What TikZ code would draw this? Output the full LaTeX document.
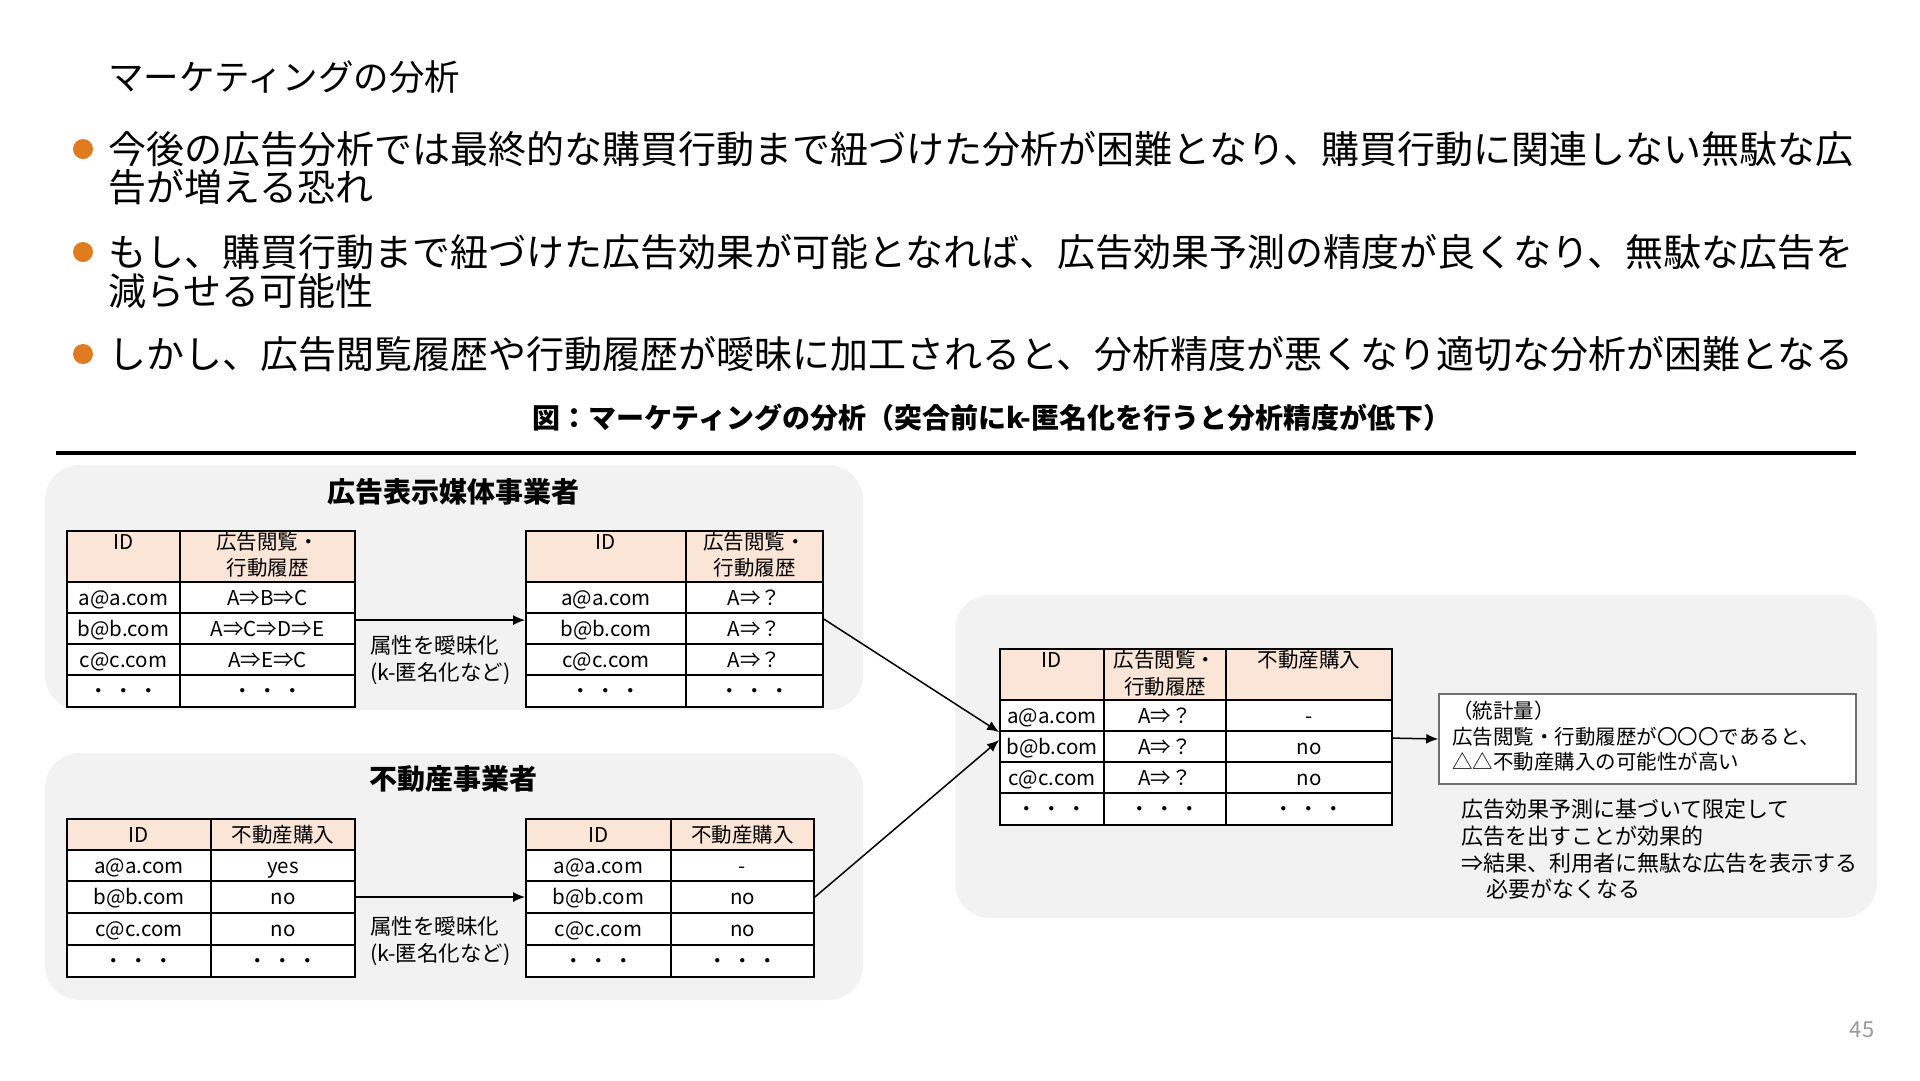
\documentclass[tikz,border=0pt]{standalone}
\usepackage{fontspec}
\setmainfont{Noto Sans CJK JP}
\usetikzlibrary{arrows.meta,calc}
\definecolor{panel}{HTML}{F2F2F2}
\definecolor{peach}{HTML}{FBE5D6}
\definecolor{bul}{HTML}{E07B1F}
\definecolor{boxgray}{HTML}{6F6F6F}
\newcommand{\fsz}[1]{\fontsize{#1pt}{#1pt}\selectfont}
\tikzset{
  ttl/.style={inner sep=0pt, anchor=west, font=\fsz{35.5}, text height=31.2pt, text depth=4.3pt},
  bl/.style={inner sep=0pt, anchor=west, font=\fsz{38}, text height=33.4pt, text depth=4.6pt},
  capt/.style={inner sep=0pt, font=\bfseries\fsz{28}, text height=24.6pt, text depth=3.4pt},
  cl/.style={inner sep=0pt, font=\fsz{20.5}, text height=18pt, text depth=2.5pt},
  lb/.style={inner sep=0pt, anchor=west, font=\fsz{21.5}, text height=18.9pt, text depth=2.6pt},
  rt/.style={inner sep=0pt, anchor=west, font=\fsz{22}, text height=19.4pt, text depth=2.6pt},
  bt/.style={inner sep=0pt, anchor=west, font=\fsz{20.5}, text height=18pt, text depth=2.5pt},
  cellb/.style={cl, draw=black, line width=1.8pt},
  hdr/.style={fill=peach},
  row/.style={fill=white},
  panelbg/.style={fill=panel, rounded corners=35pt},
  arr/.style={line width=1.5pt, -{Latex[length=12pt,width=10pt]}},
  dot/.style={circle, fill=bul, minimum size=20pt, inner sep=0pt},
}
\newcommand{\cell}[7]{\node[cellb,#6,minimum width={(#4-#2)*1pt},minimum height={(#5-#3)*1pt}] (#1) at ({(#2+#4)/2},{(#3+#5)/2}) {#7};}
\begin{document}
\begin{tikzpicture}[x=1pt,y=-1pt]
\useasboundingbox (0,0) rectangle (1920,1080);
\fill[white] (0,0) rectangle (1920,1080);

% title and bullets
\node[ttl] (title) at (108,77) {マーケティングの分析};
\node[dot] (d1) at (83,149) {};
\node[bl] (l1a) at (108,149) {今後の広告分析では最終的な購買行動まで紐づけた分析が困難となり、購買行動に関連しない無駄な広};
\node[bl] (l1b) at (108,187) {告が増える恐れ};
\node[dot] (d2) at (83,252) {};
\node[bl] (l2a) at (108,252) {もし、購買行動まで紐づけた広告効果が可能となれば、広告効果予測の精度が良くなり、無駄な広告を};
\node[bl] (l2b) at (108,291) {減らせる可能性};
\node[dot] (d3) at (83,354) {};
\node[bl] (l3a) at (108,354) {しかし、広告閲覧履歴や行動履歴が曖昧に加工されると、分析精度が悪くなり適切な分析が困難となる};

\node[capt] (cap) at (992,418) {図：マーケティングの分析（突合前にk-匿名化を行うと分析精度が低下）};
\coordinate (rl) at (56,453);
\coordinate (rr) at (1856,453);
\draw[line width=3.5pt] (rl) -- (rr);

% panels
\path[panelbg] (45,465) rectangle (863,710);
\path[panelbg] (45,753) rectangle (863,1000);
\path[panelbg] (955,595) rectangle (1877,918);

\node[capt] (pta) at (453,492) {広告表示媒体事業者};
\node[capt] (ptb) at (453,779) {不動産事業者};

% table A1
\cell{aoh1}{67}{531}{180}{582}{hdr}{}
\cell{aoh2}{180}{531}{355}{582}{hdr}{}
\cell{aor1a}{67}{582}{180}{613}{row}{a@a.com}
\cell{aor1b}{180}{582}{355}{613}{row}{A⇒B⇒C}
\cell{aor2a}{67}{613}{180}{644}{row}{b@b.com}
\cell{aor2b}{180}{613}{355}{644}{row}{A⇒C⇒D⇒E}
\cell{aor3a}{67}{644}{180}{675}{row}{c@c.com}
\cell{aor3b}{180}{644}{355}{675}{row}{A⇒E⇒C}
\cell{aor4a}{67}{675}{180}{707}{row}{・ ・ ・}
\cell{aor4b}{180}{675}{355}{707}{row}{・ ・ ・}
\node[cl] (aoh1t) at ($(aoh1.north)+(0,12)$) {ID};
\node[cl] (aoh2t) at ($(aoh2.north)+(0,12)$) {広告閲覧・};
\node[cl] (aoh2u) at ($(aoh2.north)+(0,38)$) {行動履歴};

% table A2
\cell{ath1}{526}{531}{686}{582}{hdr}{}
\cell{ath2}{686}{531}{823}{582}{hdr}{}
\cell{atr1a}{526}{582}{686}{613}{row}{a@a.com}
\cell{atr1b}{686}{582}{823}{613}{row}{A⇒？}
\cell{atr2a}{526}{613}{686}{644}{row}{b@b.com}
\cell{atr2b}{686}{613}{823}{644}{row}{A⇒？}
\cell{atr3a}{526}{644}{686}{675}{row}{c@c.com}
\cell{atr3b}{686}{644}{823}{675}{row}{A⇒？}
\cell{atr4a}{526}{675}{686}{707}{row}{・ ・ ・}
\cell{atr4b}{686}{675}{823}{707}{row}{・ ・ ・}
\node[cl] (ath1t) at ($(ath1.north)+(0,12)$) {ID};
\node[cl] (ath2t) at ($(ath2.north)+(0,12)$) {広告閲覧・};
\node[cl] (ath2u) at ($(ath2.north)+(0,38)$) {行動履歴};

\draw[arr] ($(aor2b.north east)+(0,8)$) -- ($(atr2a.north west)+(0,8)$);
\node[lb] (lba1) at (370,645) {属性を曖昧化};
\node[lb] (lba2) at (370,672) {(k-匿名化など)};

% table B1
\cell{boh1}{67}{819}{211}{850}{hdr}{ID}
\cell{boh2}{211}{819}{355}{850}{hdr}{不動産購入}
\cell{bor1a}{67}{850}{211}{881}{row}{a@a.com}
\cell{bor1b}{211}{850}{355}{881}{row}{yes}
\cell{bor2a}{67}{881}{211}{913}{row}{b@b.com}
\cell{bor2b}{211}{881}{355}{913}{row}{no}
\cell{bor3a}{67}{913}{211}{945}{row}{c@c.com}
\cell{bor3b}{211}{913}{355}{945}{row}{no}
\cell{bor4a}{67}{945}{211}{977}{row}{・ ・ ・}
\cell{bor4b}{211}{945}{355}{977}{row}{・ ・ ・}

% table B2
\cell{bth1}{526}{819}{671}{850}{hdr}{ID}
\cell{bth2}{671}{819}{814}{850}{hdr}{不動産購入}
\cell{btr1a}{526}{850}{671}{881}{row}{a@a.com}
\cell{btr1b}{671}{850}{814}{881}{row}{-}
\cell{btr2a}{526}{881}{671}{913}{row}{b@b.com}
\cell{btr2b}{671}{881}{814}{913}{row}{no}
\cell{btr3a}{526}{913}{671}{945}{row}{c@c.com}
\cell{btr3b}{671}{913}{814}{945}{row}{no}
\cell{btr4a}{526}{945}{671}{977}{row}{・ ・ ・}
\cell{btr4b}{671}{945}{814}{977}{row}{・ ・ ・}

\draw[arr] (bor2b.east) -- (btr2a.west);
\node[lb] (lbb1) at (370,926) {属性を曖昧化};
\node[lb] (lbb2) at (370,953) {(k-匿名化など)};

% table C
\cell{ch1}{1000}{649}{1104}{700}{hdr}{}
\cell{ch2}{1104}{649}{1226}{700}{hdr}{}
\cell{ch3}{1226}{649}{1392}{700}{hdr}{}
\cell{cr1a}{1000}{700}{1104}{731}{row}{a@a.com}
\cell{cr1b}{1104}{700}{1226}{731}{row}{A⇒？}
\cell{cr1c}{1226}{700}{1392}{731}{row}{-}
\cell{cr2a}{1000}{731}{1104}{762}{row}{b@b.com}
\cell{cr2b}{1104}{731}{1226}{762}{row}{A⇒？}
\cell{cr2c}{1226}{731}{1392}{762}{row}{no}
\cell{cr3a}{1000}{762}{1104}{793}{row}{c@c.com}
\cell{cr3b}{1104}{762}{1226}{793}{row}{A⇒？}
\cell{cr3c}{1226}{762}{1392}{793}{row}{no}
\cell{cr4a}{1000}{793}{1104}{825}{row}{・ ・ ・}
\cell{cr4b}{1104}{793}{1226}{825}{row}{・ ・ ・}
\cell{cr4c}{1226}{793}{1392}{825}{row}{・ ・ ・}
\node[cl] (ch1t) at ($(ch1.north)+(0,12)$) {ID};
\node[cl] (ch2t) at ($(ch2.north)+(0,12)$) {広告閲覧・};
\node[cl] (ch2u) at ($(ch2.north)+(0,39)$) {行動履歴};
\node[cl] (ch3t) at ($(ch3.north)+(0,12)$) {不動産購入};

\draw[arr] ($(atr2b.north east)+(0,7)$) -- ($(cr2a.north west)+(0,2)$);
\draw[arr] (btr2b.east) -- ($(cr2a.north west)+(0,10)$);

% statistics box
\node[draw=boxgray, line width=1.5pt, fill=white, inner sep=0pt, minimum width=417pt, minimum height=90pt] (stat) at (1647.5,739) {};
\draw[arr] ($(cr2c.north east)+(0,8)$) -- (stat.west);
\node[bt] (st1) at (1452,711) {（統計量）};
\node[bt] (st2) at (1452,737) {広告閲覧・行動履歴が〇〇〇であると、};
\node[bt] (st3) at (1452,762) {△△不動産購入の可能性が高い};

\node[rt] (r1) at (1461,809) {広告効果予測に基づいて限定して};
\node[rt] (r2) at (1461,836) {広告を出すことが効果的};
\node[rt] (r3) at (1461,863) {⇒結果、利用者に無駄な広告を表示する};
\node[rt] (r4) at (1486,889) {必要がなくなる};

\node[font=\fsz{22}, text=gray!80, inner sep=0pt] (pg) at (1862,1030) {45};
\end{tikzpicture}
\end{document}
